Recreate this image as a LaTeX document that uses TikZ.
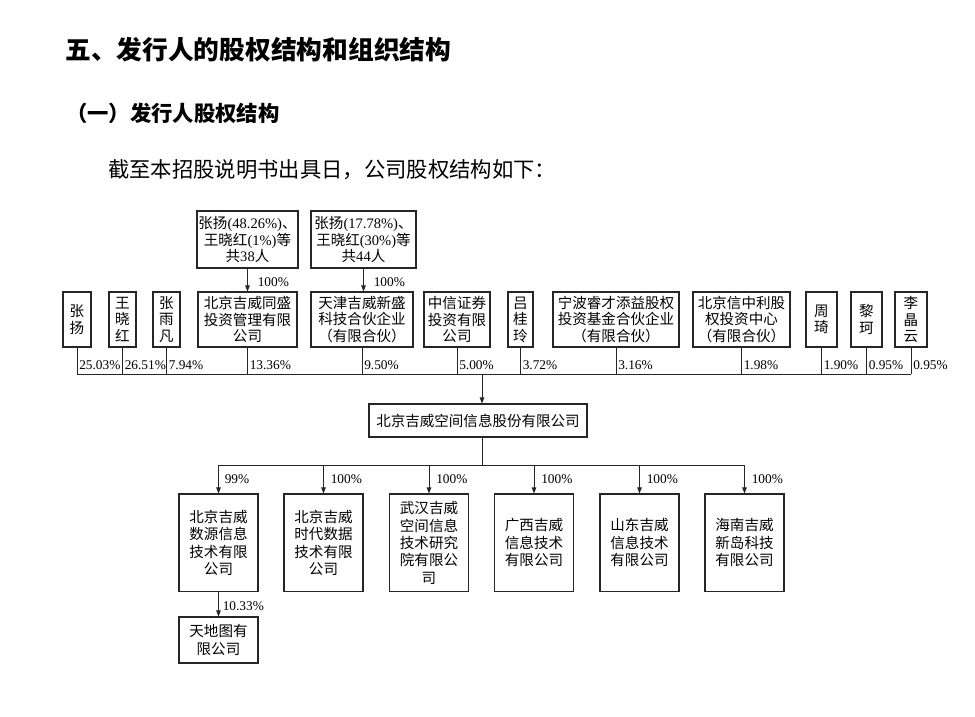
\documentclass[tikz,border=0pt]{standalone}
\usepackage{fontspec}
\setmainfont{Liberation Serif}
\newfontfamily\cjk{Noto Sans CJK SC}
\usetikzlibrary{arrows.meta}
\begin{document}
\begin{tikzpicture}[x=0.75pt,y=-0.75pt,
  box/.style={draw=black!85, line width=0.8pt, inner sep=0pt, align=center,
    font=\cjk\fontsize{10.9pt}{12.4pt}\selectfont},
  topbox/.style={box, minimum height=41.25pt},
  sub/.style={box, minimum width=59.25pt, minimum height=73.1pt,
    font=\cjk\fontsize{10.9pt}{13pt}\selectfont},
  pct/.style={inner sep=0pt, anchor=base west, font=\fontsize{10pt}{11pt}\selectfont},
  conn/.style={draw=black!85, line width=0.75pt},
  arr/.style={conn, -{Triangle[length=4.5pt,width=3.4pt]}},
  heading/.style={inner sep=0pt, anchor=west},
]
\useasboundingbox (0,0) rectangle (975,717);

% headings
\node[heading, font=\cjk\bfseries\fontsize{19.3pt}{22pt}\selectfont] (h1) at (65,50) {五、发行人的股权结构和组织结构};
\node[heading, font=\cjk\bfseries\fontsize{16pt}{19pt}\selectfont] (h2) at (66,113) {（一）发行人股权结构};
\node[heading, font=\cjk\fontsize{16pt}{19pt}\selectfont] (h3) at (108,170) {截至本招股说明书出具日，公司股权结构如下：};

% top-most holders
\node[box, minimum width=75.75pt, minimum height=42.75pt] (tA) at (247.5,239.5)
  {张扬{\rmfamily(48.26\%)}、\\王晓红{\rmfamily(1\%)}等\\共{\rmfamily 38}人};
\node[box, minimum width=78.75pt, minimum height=42.75pt] (tB) at (363.5,239.5)
  {张扬{\rmfamily(17.78\%)}、\\王晓红{\rmfamily(30\%)}等\\共{\rmfamily 44}人};

% shareholders row
\node[topbox, minimum width=21pt]    (s1)  at (77,319.5)   {张\\扬};
\node[topbox, minimum width=20.25pt] (s2)  at (122.5,319.5) {王\\晓\\红};
\node[topbox, minimum width=20.25pt] (s3)  at (166.5,319.5) {张\\雨\\凡};
\node[topbox, minimum width=74.25pt] (s4)  at (247.5,319.5) {北京吉威同盛\\投资管理有限\\公司};
\node[topbox, minimum width=76.5pt]  (s5)  at (362,319.5)   {天津吉威新盛\\科技合伙企业\\（有限合伙）};
\node[topbox, minimum width=49.5pt]  (s6)  at (457,319.5)   {中信证券\\投资有限\\公司};
\node[topbox, minimum width=18.75pt] (s7)  at (520.5,319.5) {吕\\桂\\玲};
\node[topbox, minimum width=94.5pt]  (s8)  at (616,319.5)   {宁波睿才添益股权\\投资基金合伙企业\\（有限合伙）};
\node[topbox, minimum width=72.75pt] (s9)  at (741.5,319.5) {北京信中利股\\权投资中心\\（有限合伙）};
\node[topbox, minimum width=23.25pt] (s10) at (821.5,319.5) {周\\琦};
\node[topbox, minimum width=23.25pt] (s11) at (866.5,319.5) {黎\\珂};
\node[topbox, minimum width=24pt]    (s12) at (911,319.5)   {李\\晶\\云};

% arrows from top-most holders
\draw[arr] (tA.south) -- (tA.south |- s4.north);
\draw[arr] (tB.south) -- (tB.south |- s5.north);
\path (tA.south) ++(10,17.5) node[pct] (pA) {100\%};
\path (tB.south) ++(10,17.5) node[pct] (pB) {100\%};

% main company
\node[box, minimum width=163.5pt, minimum height=24.75pt] (main) at (478,420.5) {北京吉威空间信息股份有限公司};

\coordinate (bus) at (482,374);
\foreach \s in {s1,s2,s3,s4,s5,s6,s7,s8,s9,s10,s11,s12}
  \draw[conn] (\s.south) -- (\s.south |- bus);
\draw[conn] (s1.south |- bus) -- (s12.south |- bus);
\draw[arr] (bus) -- (bus |- main.north);

\foreach \s/\p in {s1/25.03,s2/26.51,s3/7.94,s4/13.36,s5/9.50,s6/5.00,s7/3.72,s8/3.16,s9/1.98,s10/1.90,s11/0.95,s12/0.95}
  \path (\s.south |- bus) ++(2,-4.5) node[pct] {\p\%};

% subsidiaries
\node[sub] (c1) at (218.5,542.75) {北京吉威\\数源信息\\技术有限\\公司};
\node[sub] (c2) at (323.5,542.75) {北京吉威\\时代数据\\技术有限\\公司};
\node[sub] (c3) at (429,542.75)   {武汉吉威\\空间信息\\技术研究\\院有限公\\司};
\node[sub] (c4) at (534,542.75)   {广西吉威\\信息技术\\有限公司};
\node[sub] (c5) at (639.5,542.75) {山东吉威\\信息技术\\有限公司};
\node[sub] (c6) at (744.5,542.75) {海南吉威\\新岛科技\\有限公司};

\coordinate (sbus) at (482,465);
\draw[conn] (bus |- main.south) -- (sbus);
\draw[conn] (c1.north |- sbus) -- (c6.north |- sbus);
\foreach \c/\p/\dx in {c1/99/6,c2/100/7,c3/100/7,c4/100/7,c5/100/7,c6/100/7}{
  \draw[arr] (\c.north |- sbus) -- (\c.north);
  \path (\c.north |- sbus) ++(\dx,18.5) node[pct] {\p\%};
}

% second level
\node[sub, minimum height=34.5pt] (td) at (218.5,640) {天地图有\\限公司};
\draw[arr] (c1.south) -- (td.north);
\path (c1.south) ++(4,18) node[pct] (ptd) {10.33\%};
\end{tikzpicture}
\end{document}
